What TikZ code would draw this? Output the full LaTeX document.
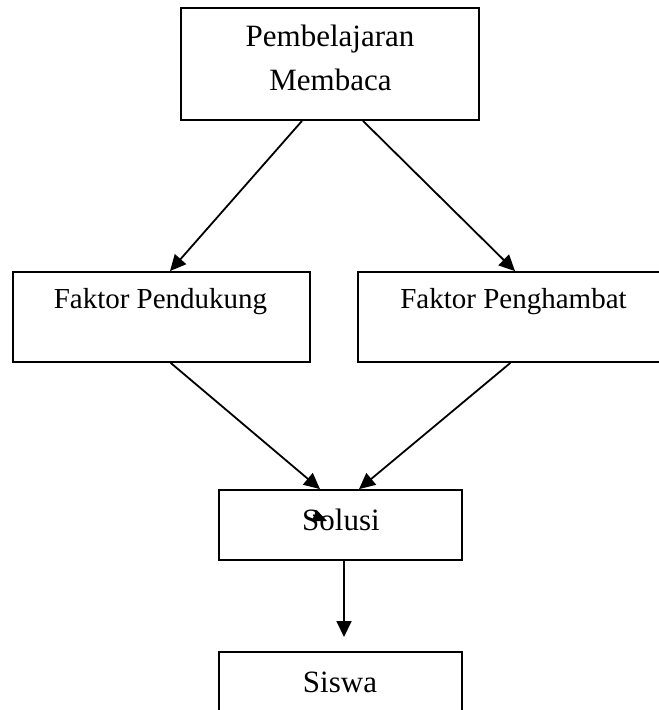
\documentclass[tikz,border=0pt]{standalone}
\usepackage{fontspec}
\setmainfont{Liberation Serif}
\usetikzlibrary{arrows.meta}
\begin{document}
\begin{tikzpicture}[x=1bp,y=-1bp,
  box/.style={draw, line width=1.8bp, inner sep=0pt, anchor=center},
  lbl/.style={anchor=base, inner sep=0pt, font=\fontsize{31bp}{36bp}\selectfont},
  lblsm/.style={anchor=base, inner sep=0pt, font=\fontsize{29bp}{34bp}\selectfont},
  arr/.style={line width=1.8bp, -{Triangle[length=16bp,width=15bp]}},
  stub/.style={line width=1.2bp, -{Triangle[length=14bp,width=12bp]}}]
\useasboundingbox (0,0) rectangle (659,710);
% boxes
\node[box, minimum width=298bp, minimum height=112bp] (top) at (330,64) {};
\node[box, minimum width=297bp, minimum height=90bp] (left) at (161.5,317) {};
\node[box, minimum width=311bp, minimum height=90bp] (right) at (513.5,317) {};
\node[box, minimum width=243bp, minimum height=70bp] (sol) at (340.5,525) {};
\node[box, minimum width=243bp, minimum height=70bp] (sis) at (340.5,687) {};
% texts
\node[lbl] (t1) at (330,47) {Pembelajaran};
\node[lbl] (t2) at (330.5,91) {Membaca};
\node[lblsm] (t3) at (160.5,308) {Faktor Pendukung};
\node[lblsm] (t4) at (513.5,308) {Faktor Penghambat};
\node[lbl] (t5) at (341,530) {Solusi};
\node[lbl] (t6) at (340,692) {Siswa};
% connectors
\draw[arr] ([xshift=-28bp]top.south) -- ([xshift=8.5bp]left.north);
\draw[arr] ([xshift=33bp]top.south) -- ([xshift=1.5bp]right.north);
\draw[arr] ([xshift=9.2bp]left.south) -- ([xshift=-20.5bp]sol.north);
\draw[arr] ([xshift=-3.1bp]right.south) -- ([xshift=18.5bp]sol.north);
\coordinate (ssrc) at ([xshift=3.5bp]sol.south);
\coordinate (sdst) at (344,637);
\draw[arr] (ssrc) -- (sdst);
\coordinate (stubA) at (313,515);
\coordinate (stubB) at (327,521);
\draw[stub] (stubA) -- (stubB);
\end{tikzpicture}
\end{document}
